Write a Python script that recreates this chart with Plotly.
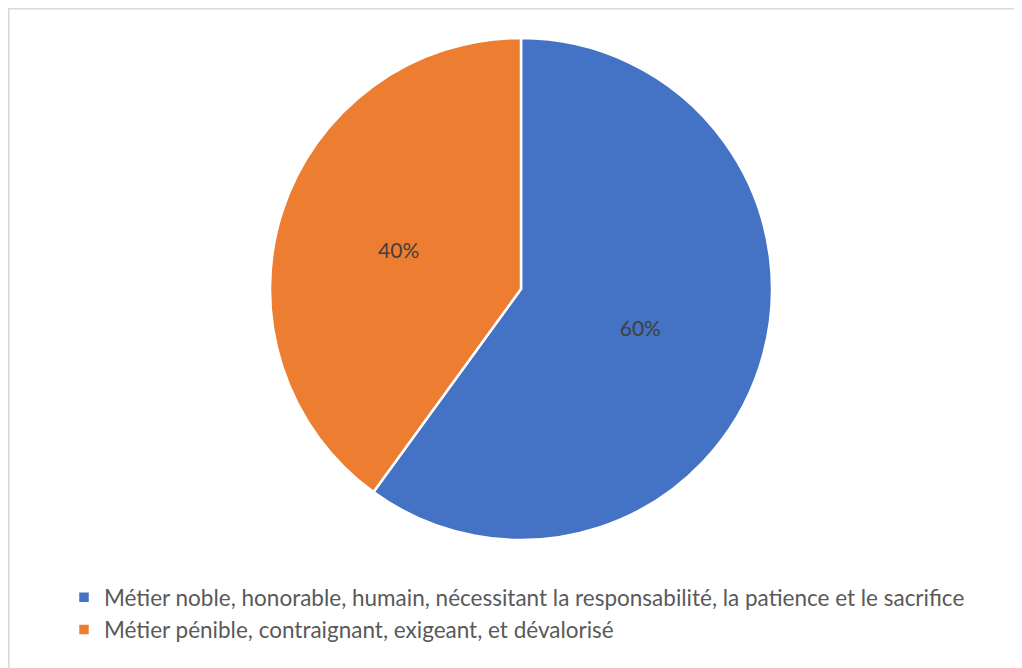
import plotly.graph_objects as go

# Données du graphique
labels = [
    "Métier noble, honorable, humain, nécessitant la responsabilité, la patience et le sacrifice",
    "Métier pénible, contraignant, exigeant, et dévalorisé",
]
values = [60, 40]
colors = ["#4472C4", "#ED7D31"]

W, H = 1022, 668
# la page HTML ajoute une marge de 8 px : on compense
OFF = 8

fig = go.Figure(
    go.Pie(
        labels=labels,
        values=values,
        sort=False,
        direction="clockwise",
        rotation=0,
        marker=dict(colors=colors, line=dict(color="white", width=2.5)),
        textinfo="percent",
        textposition="inside",
        insidetextorientation="horizontal",
        textfont=dict(family="Lato", size=21, color="#404040"),
        hoverinfo="label+percent",
        domain=dict(
            x=[(270 - OFF) / W, (772 - OFF) / W],
            y=[(H - 540 + OFF) / H, (H - 38 + OFF) / H],
        ),
    )
)

# Cadre gris clair autour du graphique
fig.add_shape(
    type="rect", xref="paper", yref="paper",
    x0=0.8 / W, x1=1.05, y0=-0.05, y1=(H - 0.8) / H,
    line=dict(color="#D9D9D9", width=1.6), fillcolor="rgba(0,0,0,0)",
)

fig.update_layout(
    width=W,
    height=H,
    margin=dict(l=0, r=0, t=0, b=0),
    paper_bgcolor="white",
    plot_bgcolor="white",
    showlegend=True,
    legend=dict(
        x=56 / W, y=(H - 568) / H, xanchor="left", yanchor="top",
        font=dict(family="Lato", size=22.5, color="#595959"),
        orientation="v",
    ),
)

fig.write_html("out.html")
